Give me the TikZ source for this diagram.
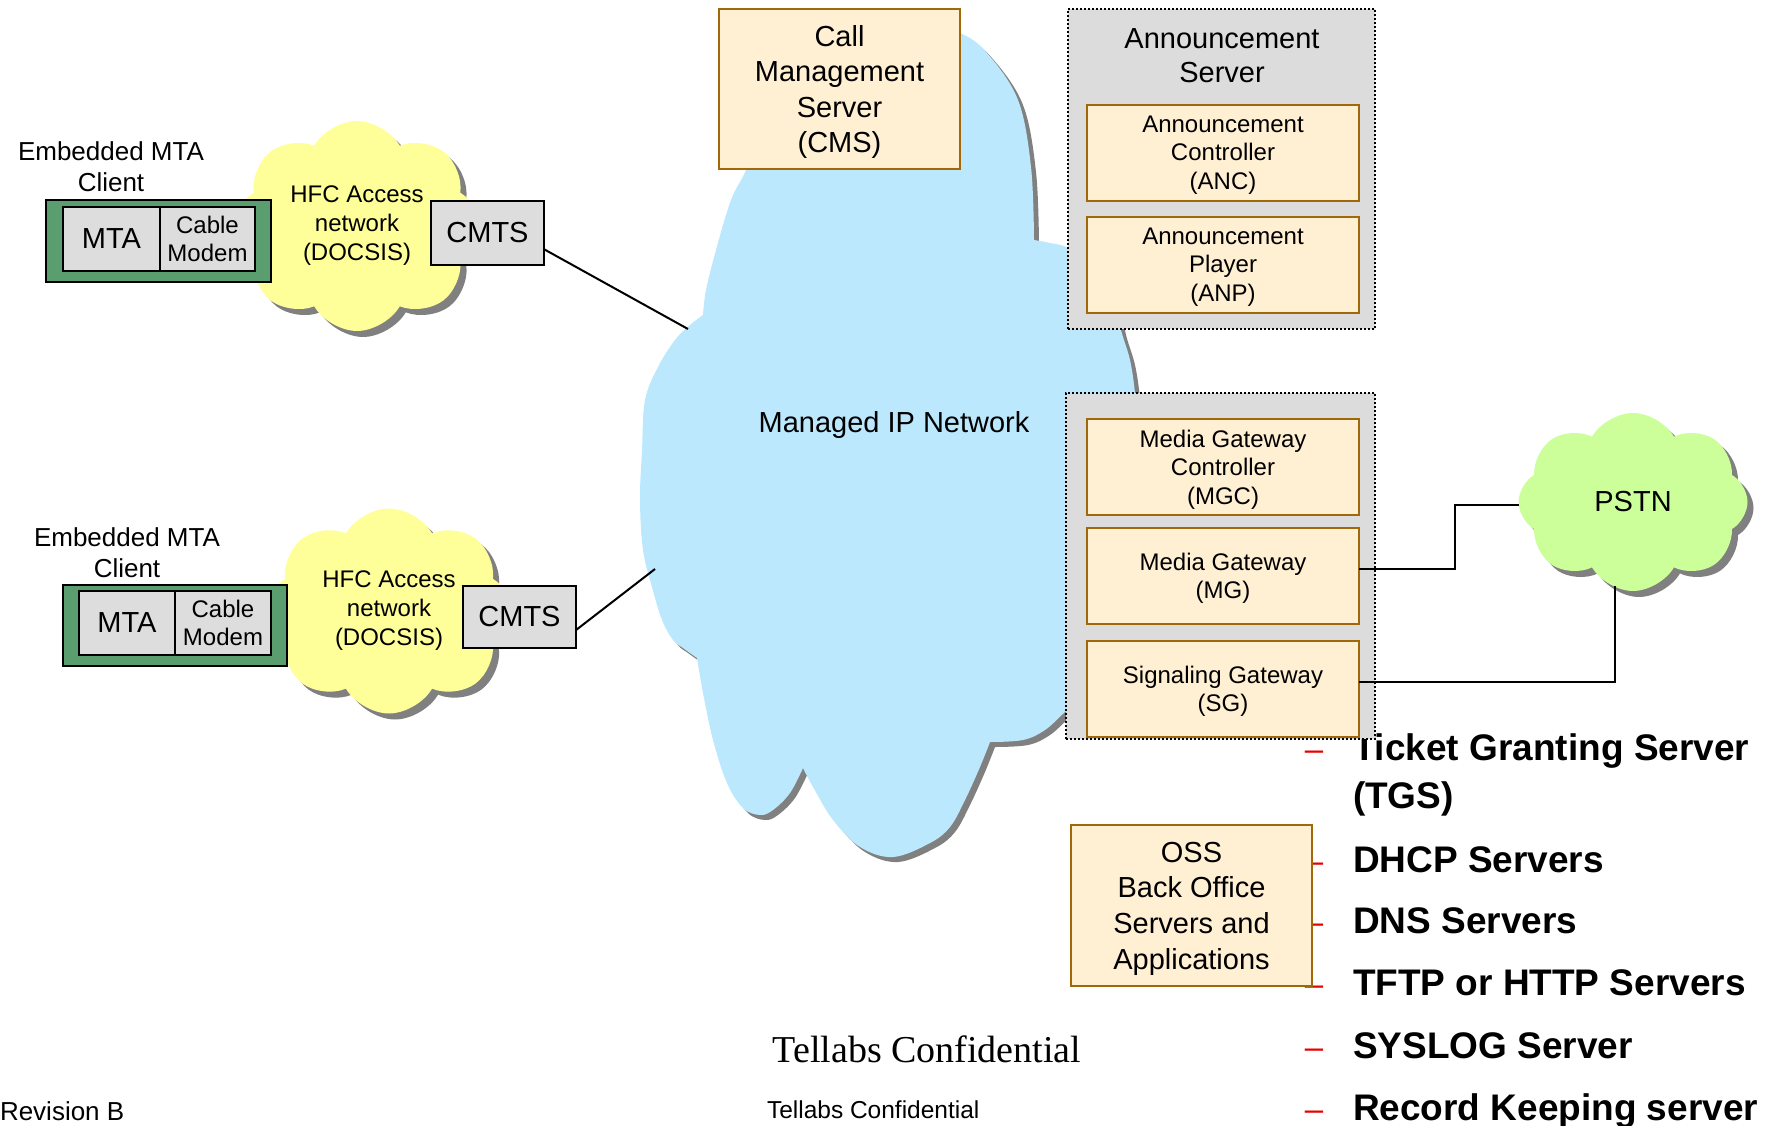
\documentclass[tikz,border=0pt]{standalone}
\usepackage{fontspec}
\setmainfont{Liberation Sans}
\newfontfamily\tmsfont{Liberation Serif}
\usetikzlibrary{shapes.symbols,shadows,calc}
\newcommand\fsz[2]{\fontsize{#1}{#2}\selectfont}
\definecolor{ipblue}{RGB}{187,232,253}
\definecolor{hfcyellow}{RGB}{255,255,153}
\definecolor{pstngreen}{RGB}{204,255,153}
\definecolor{shadowgray}{RGB}{128,128,128}
\definecolor{mtagreen}{RGB}{90,158,112}
\definecolor{boxgray}{RGB}{221,221,221}
\definecolor{groupgray}{RGB}{220,220,220}
\definecolor{beigefill}{RGB}{255,239,211}
\definecolor{beigeline}{RGB}{160,104,10}
\definecolor{dashred}{RGB}{230,0,0}
\newcommand\ipcloudpath{%
  plot[smooth,tension=0.6] coordinates {(703,315) (706,290) (716,250) (731,200) (746,170) (765,120) (800,60) (850,28) (920,22) (960,33) (987,53) (1018,100) (1031,167) (1034,240)}
  -- plot[smooth,tension=0.6] coordinates {(1034,240) (1050,243) (1068,248) (1095,268) (1115,300) (1121,330) (1130,360) (1135,393) (1138,430) (1120,600) (1080,700) (1065,712) (1045,730) (1023,740) (990,742)}
  -- plot[smooth,tension=0.6] coordinates {(990,742) (980,767) (965,800) (950,827) (930,843) (893,857) (860,847) (833,820) (813,787) (803,768)}
  -- plot[smooth,tension=0.6] coordinates {(803,768) (790,793) (773,810) (760,815) (743,808) (727,783) (713,740) (703,693) (697,658)}
  -- plot[smooth,tension=0.6] coordinates {(697,658) (683,648) (673,640) (662,620) (652,587) (643,550) (640,500) (642,450) (645,400) (658,367) (675,340) (690,325) (703,315)}
  -- cycle}
\begin{document}
\begin{tikzpicture}[x=1pt,y=-1pt,
  every node/.style={inner sep=0pt,outer sep=0pt},
  lowered/.style={text depth=#1},
  beigebox/.style={draw=beigeline,fill=beigefill,line width=2.5pt,align=center,anchor=north west},
  graybox/.style={draw=black,fill=boxgray,line width=2pt,align=center,anchor=north west},
  greenbox/.style={draw=black,fill=mtagreen,line width=2.5pt,anchor=north west},
  groupbox/.style={draw=black,fill=groupgray,line width=2pt,dash pattern=on 2pt off 2pt,anchor=north west},
  cloudshape/.style={cloud,cloud puffs=8,cloud puff arc=120,cloud ignores aspect,align=center,
    general shadow={fill=shadowgray,shadow xshift=6pt,shadow yshift=-6pt}},
  conn/.style={draw=black,line width=2pt},
  listitem/.style={anchor=base west,font=\fsz{37}{44}\bfseries},
  listdash/.style={anchor=base,text=dashred,font=\fsz{33}{40}},
  plain/.style={align=center}
]
\useasboundingbox (0,0) rectangle (1768,1126);

% Managed IP network cloud
\fill[ipblue,general shadow={fill=shadowgray,shadow xshift=5pt,shadow yshift=-5pt}] \ipcloudpath;
\node[font=\fsz{29}{34},anchor=base] (iplabel) at (894,432) {Managed IP Network};

% access clouds and PSTN
\node[cloudshape,fill=hfcyellow,minimum width=245pt,minimum height=210pt,font=\fsz{24}{29}] (hfc1) at (357,226) {HFC Access\\network\\(DOCSIS)};
\node[cloudshape,fill=hfcyellow,minimum width=245pt,minimum height=205pt,font=\fsz{24}{29}] (hfc2) at (389,611) {HFC Access\\network\\(DOCSIS)};
\node[cloudshape,fill=pstngreen,minimum width=229pt,minimum height=178pt,font=\fsz{29}{34}] (pstn) at (1633,502) {PSTN};

% bullet list (behind boxes)
\node[listdash] (d1) at (1314,760) {–};
\node[listdash] (d2) at (1314,872) {–};
\node[listdash] (d3) at (1314,933) {–};
\node[listdash] (d4) at (1314,995) {–};
\node[listdash] (d5) at (1314,1058) {–};
\node[listdash] (d6) at (1314,1120) {–};
\node[listitem] (tgs) at (1353,760) {Ticket Granting Server};
\node[listitem] (tgsb) at (1353,808) {(TGS)};
\node[listitem] (dhcp) at (1353,872) {DHCP Servers};
\node[listitem] (dns) at (1353,933) {DNS Servers};
\node[listitem] (tftp) at (1353,995) {TFTP or HTTP Servers};
\node[listitem] (syslog) at (1353,1058) {SYSLOG Server};
\node[listitem] (rks) at (1353,1120) {Record Keeping server};

% embedded MTA clients
\node[font=\fsz{26}{31},plain] (emtalbl1) at (111,167) {Embedded MTA\\Client};
\node[greenbox,minimum width=225pt,minimum height=82pt] (emta1) at (46,200) {};
\node[graybox,minimum width=97pt,minimum height=64pt,font=\fsz{29}{34}] (mta1) at (63,207) {MTA};
\node[graybox,minimum width=95pt,minimum height=64pt,font=\fsz{24}{28}] (cm1) at (160,207) {Cable\\Modem};
\node[graybox,minimum width=113pt,minimum height=64pt,font=\fsz{29}{34}] (cmts1) at (431,201) {CMTS};

\node[font=\fsz{26}{31},plain] (emtalbl2) at (127,553) {Embedded MTA\\Client};
\node[greenbox,minimum width=224pt,minimum height=81pt] (emta2) at (63,585) {};
\node[graybox,minimum width=96pt,minimum height=64pt,font=\fsz{29}{34}] (mta2) at (79,591) {MTA};
\node[graybox,minimum width=96pt,minimum height=64pt,font=\fsz{24}{28}] (cm2) at (175,591) {Cable\\Modem};
\node[graybox,minimum width=113pt,minimum height=62pt,font=\fsz{29}{34}] (cmts2) at (463,586) {CMTS};

% call management server
\node[beigebox,lowered=-3pt,minimum width=241pt,minimum height=160pt,font=\fsz{29}{35.5}] (cms) at (719,9) {Call\\Management\\Server\\(CMS)};

% announcement server
\node[groupbox,minimum width=307pt,minimum height=320pt] (annsrv) at (1068,9) {};
\node[font=\fsz{29}{34},plain] (anntitle) at (1222,56) {Announcement\\Server};
\node[beigebox,lowered=1pt,minimum width=272pt,minimum height=96pt,font=\fsz{24}{28.5}] (anc) at (1087,105) {Announcement\\Controller\\(ANC)};
\node[beigebox,lowered=1pt,minimum width=272pt,minimum height=96pt,font=\fsz{24}{28.5}] (anp) at (1087,217) {Announcement\\Player\\(ANP)};

% media gateway group
\node[groupbox,minimum width=309pt,minimum height=346pt] (mggrp) at (1066,393) {};
\node[beigebox,lowered=-1pt,minimum width=272pt,minimum height=96pt,font=\fsz{24}{28.5}] (mgc) at (1087,419) {Media Gateway\\Controller\\(MGC)};
\node[beigebox,lowered=-1pt,minimum width=272pt,minimum height=96pt,font=\fsz{24}{28.5}] (mg) at (1087,528) {Media Gateway\\(MG)};
\node[beigebox,lowered=0pt,minimum width=272pt,minimum height=96pt,font=\fsz{24}{28.5}] (sg) at (1087,641) {Signaling Gateway\\(SG)};

% OSS
\node[beigebox,lowered=-3pt,minimum width=241pt,minimum height=161pt,font=\fsz{29}{35.7}] (oss) at (1071,825) {OSS\\Back Office\\Servers and\\Applications};

% footer
\node[font=\tmsfont\fsz{38}{44},anchor=base] (conf1) at (927,1062) {Tellabs Confidential};
\node[font=\fsz{24.5}{28},anchor=base west] (conf2) at (767,1118) {Tellabs Confidential};
\node[font=\fsz{26}{30},anchor=base west] (rev) at (0,1120) {Revision B};

% connectors
\coordinate (ipA) at (688,329);
\coordinate (ipB) at (655,569);
\coordinate (pstnL) at (1519,505);
\coordinate (pstnB) at (1615,586);
\draw[conn] (cmts1.-16.7) -- (ipA);
\draw[conn] (cmts2.-13.9) -- (ipB);
\draw[conn] (mg.3) -- ++(96,0) |- (pstnL);
\draw[conn] (sg.3) -| (pstnB);
\end{tikzpicture}
\end{document}
